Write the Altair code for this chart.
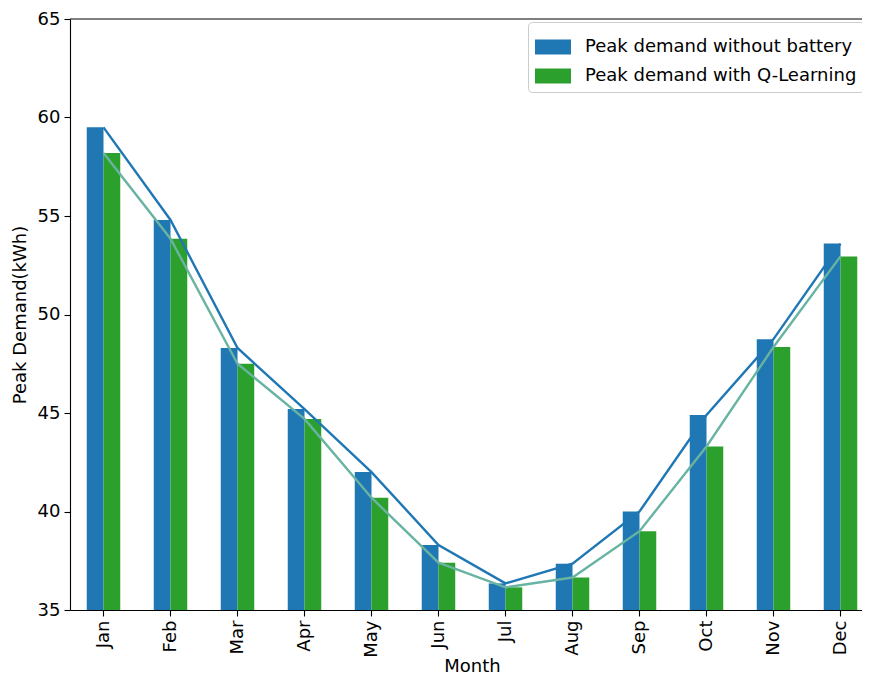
import altair as alt
import pandas as pd

months = ["Jan", "Feb", "Mar", "Apr", "May", "Jun", "Jul", "Aug", "Sep", "Oct", "Nov", "Dec"]
without_battery = [59.5, 54.8, 48.3, 45.2, 42.0, 38.3, 36.35, 37.35, 40.0, 44.9, 48.75, 53.6]
with_qlearning = [58.2, 53.85, 47.5, 44.7, 40.7, 37.4, 36.15, 36.65, 39.0, 43.3, 48.35, 52.95]
series = ["Peak demand without battery", "Peak demand with Q-Learning"]

rows = []
for m, a, b in zip(months, without_battery, with_qlearning):
    rows.append({"month": m, "series": series[0], "value": a})
    rows.append({"month": m, "series": series[1], "value": b})
df = pd.DataFrame(rows)

FONT = "DejaVu Sans"
FS = 18
W = 804
H = 591

xenc = alt.X("month:N", sort=months, title="Month",
             scale=alt.Scale(paddingInner=0.5, paddingOuter=0.25),
             axis=alt.Axis(labelAngle=270, labelFontSize=FS, titleFontSize=FS,
                           labelPadding=4, titlePadding=0))
yenc = alt.Y("value:Q", title="Peak Demand(kWh)",
             scale=alt.Scale(domain=[35, 65], zero=False, nice=False),
             axis=alt.Axis(values=[35, 40, 45, 50, 55, 60, 65], labelFontSize=FS,
                           titleFontSize=FS, labelPadding=4, titlePadding=8, grid=False))

bars = alt.Chart(df).mark_bar().encode(
    x=xenc,
    xOffset=alt.XOffset("series:N", sort=series),
    y=yenc,
    y2=alt.datum(35),
    color=alt.Color("series:N", sort=series,
                    scale=alt.Scale(domain=series, range=["#1f77b4", "#2ca02c"]),
                    legend=alt.Legend(title=None, orient="none", legendX=458, legendY=3,
                                      symbolType="M-1,-0.42H1V0.42H-1Z", symbolSize=1296,
                                      symbolStrokeWidth=0, labelFontSize=FS, labelOffset=14,
                                      labelLimit=0,
                                      padding=7, strokeColor="#cccccc", cornerRadius=4,
                                      fillColor="white", rowPadding=2)),
)

lines = alt.Chart(df).mark_line(strokeWidth=2.4).encode(
    x=alt.X("month:N", sort=months),
    y=alt.Y("value:Q"),
    stroke=alt.Stroke("series:N", sort=series,
                      scale=alt.Scale(domain=series, range=["#1f77b4", "#69b3a2"]),
                      legend=None),
)

top_spine = alt.Chart(pd.DataFrame({"a": [0]})).mark_rule(color="black", strokeWidth=1.1).encode(
    x=alt.value(0), x2=alt.value(W), y=alt.value(0)
)

chart = alt.layer(bars, lines, top_spine).properties(
    width=W, height=H,
    autosize=alt.AutoSizeParams(type="none"),
    padding={"left": 62, "top": 11, "right": -12, "bottom": 66},
).configure(font=FONT).configure_view(stroke=None).configure_axis(
    domainColor="black", domainWidth=1.1, tickColor="black", tickWidth=1.1, tickSize=6,
    labelColor="black", titleColor="black", titleFontWeight="normal", labelFont=FONT, titleFont=FONT
).configure_legend(labelFont=FONT, labelColor="black")

chart.save("out.html", embed_options={"renderer": "svg", "actions": False})
